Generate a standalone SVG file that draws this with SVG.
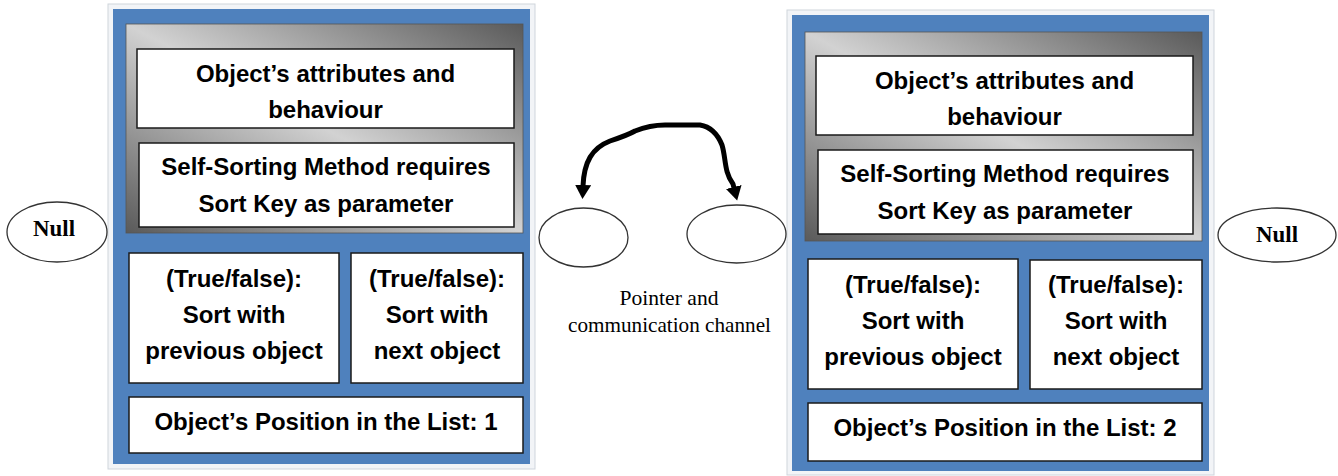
<svg xmlns="http://www.w3.org/2000/svg" width="1338" height="476" viewBox="0 0 1338 476">
<style>
.frame{fill:#f2f4f7;stroke:#cfd5dc;stroke-width:1}
.blue{fill:#4f81bd}
.panel{fill:url(#metal);stroke:#555;stroke-width:0.8}
.wbox{fill:#fff;stroke:#1a1a1a;stroke-width:1.5}
.t{font-family:"Liberation Sans",Arial,sans-serif;font-weight:bold;font-size:24px;text-anchor:middle;fill:#000}
.ell{fill:#fff;stroke:#333;stroke-width:1.3}
.nul{font-family:"Liberation Serif","Times New Roman",serif;font-weight:bold;font-size:23px;text-anchor:middle;fill:#000}
.lbl{font-family:"Liberation Serif","Times New Roman",serif;font-size:22px;text-anchor:middle;fill:#000}
.conn{fill:none;stroke:#000;stroke-width:5;stroke-linejoin:round;stroke-linecap:round}
</style>
<defs>
<linearGradient id="metal" x1="1" y1="0" x2="0" y2="1">
<stop offset="0" stop-color="#5a5a5a"/>
<stop offset="0.5" stop-color="#d2d2d2"/>
<stop offset="1" stop-color="#5a5a5a"/>
</linearGradient>
<marker id="head" viewBox="0 0 14 16" refX="1" refY="8" markerWidth="14" markerHeight="16" markerUnits="userSpaceOnUse" orient="auto-start-reverse">
<path d="M0,0 L14,8 L0,16 z" fill="#000"/>
</marker>
</defs>
<rect width="1338" height="476" fill="#fff"/>

<g id="object1">
<rect class="frame" x="108" y="4" width="427" height="465"/>
<rect class="blue" x="113" y="9" width="417" height="455"/>
<rect class="panel" x="126" y="24" width="397" height="209"/>
<rect class="wbox" x="137" y="49" width="377" height="79"/>
<text class="t" x="325.5" y="82">Object’s attributes and</text>
<text class="t" x="325.5" y="118">behaviour</text>
<rect class="wbox" x="139" y="143" width="375" height="84"/>
<text class="t" x="326" y="175">Self-Sorting Method requires</text>
<text class="t" x="326" y="212">Sort Key as parameter</text>
<rect class="wbox" x="129" y="253" width="210" height="130"/>
<text class="t" x="234" y="287">(True/false):</text>
<text class="t" x="234" y="323">Sort with</text>
<text class="t" x="234" y="359">previous object</text>
<rect class="wbox" x="351" y="253" width="172" height="130"/>
<text class="t" x="437" y="287">(True/false):</text>
<text class="t" x="437" y="323">Sort with</text>
<text class="t" x="437" y="359">next object</text>
<rect class="wbox" x="129" y="397" width="394" height="56"/>
<text class="t" x="326" y="430">Object’s Position in the List: 1</text>
</g>

<g id="object2">
<rect class="frame" x="787" y="10" width="427" height="465"/>
<rect class="blue" x="792" y="15" width="417" height="456"/>
<rect class="panel" x="805" y="32" width="397" height="209"/>
<rect class="wbox" x="816" y="56" width="377" height="79"/>
<text class="t" x="1004.5" y="89">Object’s attributes and</text>
<text class="t" x="1004.5" y="125">behaviour</text>
<rect class="wbox" x="818" y="150" width="375" height="84"/>
<text class="t" x="1005" y="182">Self-Sorting Method requires</text>
<text class="t" x="1005" y="219">Sort Key as parameter</text>
<rect class="wbox" x="808" y="259" width="210" height="130"/>
<text class="t" x="913" y="293">(True/false):</text>
<text class="t" x="913" y="329">Sort with</text>
<text class="t" x="913" y="365">previous object</text>
<rect class="wbox" x="1030" y="260" width="172" height="129"/>
<text class="t" x="1116" y="293">(True/false):</text>
<text class="t" x="1116" y="329">Sort with</text>
<text class="t" x="1116" y="365">next object</text>
<rect class="wbox" x="808" y="403" width="394" height="58"/>
<text class="t" x="1005" y="436">Object’s Position in the List: 2</text>
</g>

<g id="null-left">
<ellipse class="ell" cx="57" cy="232" rx="50" ry="30"/>
<text class="nul" x="54" y="236" textLength="42" lengthAdjust="spacingAndGlyphs">Null</text>
</g>

<g id="null-right">
<ellipse class="ell" cx="1277" cy="235" rx="59" ry="27"/>
<text class="nul" x="1277" y="242" textLength="42" lengthAdjust="spacingAndGlyphs">Null</text>
</g>

<g id="pointer-left">
<ellipse class="ell" cx="583.5" cy="237.5" rx="44.5" ry="29.5"/>
</g>

<g id="pointer-right">
<ellipse class="ell" cx="736.5" cy="234" rx="49.5" ry="29"/>
</g>

<g id="pointer-label">
<text class="lbl" x="669" y="305" textLength="99" lengthAdjust="spacingAndGlyphs">Pointer and</text>
<text class="lbl" x="669.5" y="332" textLength="203" lengthAdjust="spacingAndGlyphs">communication channel</text>
</g>

<g id="connectors">
<path class="conn" marker-start="url(#head)" marker-end="url(#head)" d="M583,186 C584,162 592,148 610,141 C622,137 628,135 635,131 C645,127 655,125 665,125 L700,125 C712,127 718,135 722,145 C726,158 724,172 733,184 L734,188"/>
</g>
</svg>
